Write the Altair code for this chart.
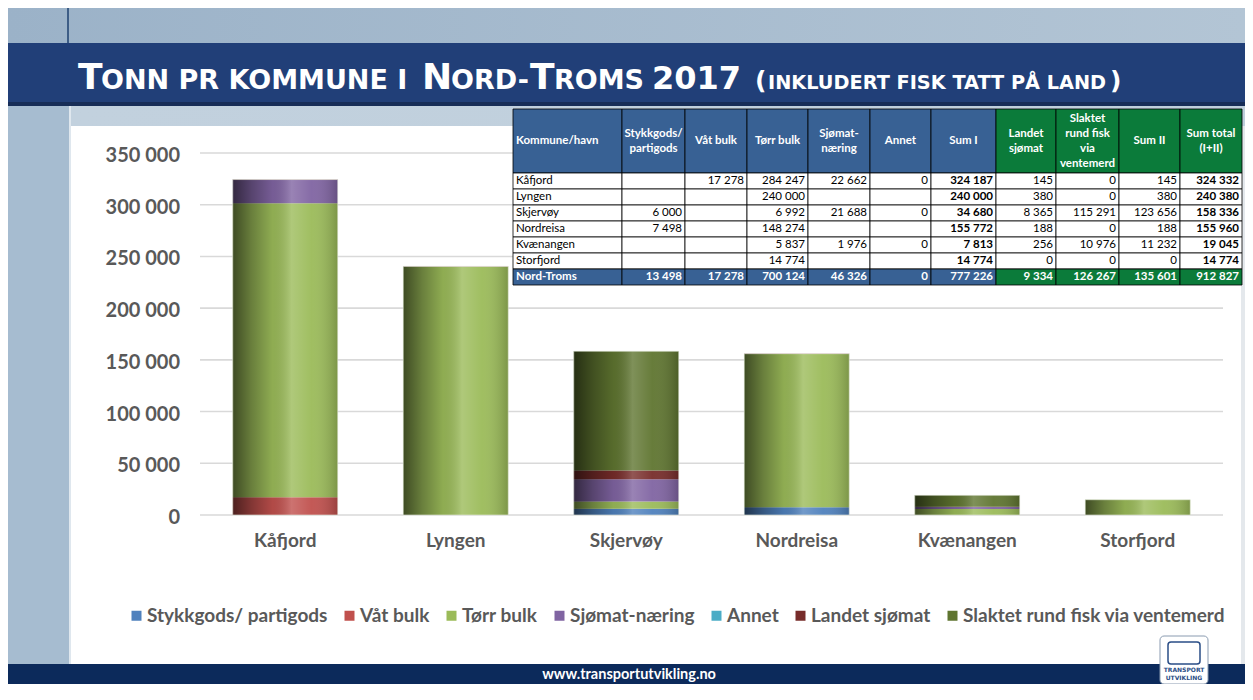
import altair as alt
import pandas as pd

# ---------------- data ----------------
KOMMUNER = ["Kåfjord", "Lyngen", "Skjervøy", "Nordreisa", "Kvænangen", "Storfjord"]
SERIES = ["Stykkgods/ partigods", "Våt bulk", "Tørr bulk", "Sjømat-næring",
          "Annet", "Landet sjømat", "Slaktet rund fisk via ventemerd"]
STYKKGODS = [None, None, 6000, 7498, None, None]
VAT_BULK = [17278, None, None, None, None, None]
TORR_BULK = [284247, 240000, 6992, 148274, 5837, 14774]
SJOMAT = [22662, None, 21688, None, 1976, None]
ANNET = [0, None, 0, None, 0, None]
LANDET = [145, 380, 8365, 188, 256, 0]
SLAKTET = [0, 0, 115291, 0, 10976, 0]
Y_TICKS = [0, 50000, 100000, 150000, 200000, 250000, 300000, 350000]
TABLE_HEADERS = ["Kommune/havn", "Stykkgods/\npartigods", "Våt bulk", "Tørr bulk",
                 "Sjømat-\nnæring", "Annet", "Sum I", "Landet\nsjømat",
                 "Slaktet\nrund fisk\nvia\nventemerd", "Sum II", "Sum total\n(I+II)"]
TOTAL_LABEL = "Nord-Troms"

COLORS = ["#4F81BD", "#C0504D", "#9BBB59", "#8064A2", "#4BACC6", "#772C2A", "#5F7530"]
SERIES_VALUES = [STYKKGODS, VAT_BULK, TORR_BULK, SJOMAT, ANNET, LANDET, SLAKTET]


def fmt(v):
    return "" if v is None else f"{v:,}".replace(",", " ")


rows = []
for si, (name, vals) in enumerate(zip(SERIES, SERIES_VALUES)):
    for k, v in zip(KOMMUNER, vals):
        if v:
            rows.append({"kommune": k, "serie": name, "idx": si, "value": v})
df = pd.DataFrame(rows)
ticks_df = pd.DataFrame({"t": Y_TICKS, "label": [fmt(t) for t in Y_TICKS]})
kom_df = pd.DataFrame({"kommune": KOMMUNER})

# ---------------- layout (reference pixel coords) ----------------
OX, OY = 200, 153          # plot origin in page coords
PW, PH = 1023, 362
ONE = pd.DataFrame({"o": [0]})


def rect(x1, y1, x2, y2, fill, **kw):
    return alt.Chart(ONE).mark_rect(fill=fill, **kw).encode(
        x=alt.value(x1 - OX), x2=alt.value(x2 - OX),
        y=alt.value(y1 - OY), y2=alt.value(y2 - OY))


def txt(x, y, s, size, color="white", weight="bold", font="DejaVu Sans",
        align="left", baseline="alphabetic"):
    return alt.Chart(ONE).mark_text(
        text=s, font=font, fontSize=size, fontWeight=weight, color=color,
        align=align, baseline=baseline).encode(
        x=alt.value(x - OX), y=alt.value(y - OY))


def hgrad(c1, c2):
    return alt.Gradient(gradient="linear", x1=0, x2=1, y1=0, y2=0,
                        stops=[alt.GradientStop(color=c1, offset=0),
                               alt.GradientStop(color=c2, offset=1)])


deco = [
    rect(8, 8, 1245, 43, hgrad("#9bb2c8", "#b3c5d5")),
    rect(8, 105, 70, 684, "#a6bcd0"),
    rect(69, 106, 71, 664, "#dfe7ee"),
    rect(71, 106, 1245, 126, hgrad("#c2d1de", "#bfcfdc")),
    rect(1241, 126, 1245, 664, "#e4e8ec"),
    rect(67, 8, 69, 43, "#3d5d86"),
    rect(8, 43, 1245, 105, "#213f78"),
    rect(8, 102, 1245, 106, "#172d57"),
    rect(8, 664, 1245, 684, "#0c2a5b"),
    txt(629, 679, "www.transportutvikling.no", 14.5, font="Lato", align="center"),
    rect(1160, 636, 1208, 684, "#ffffff", cornerRadius=4, stroke="#8a9bb0", strokeWidth=1),
    rect(1168, 642, 1200, 664, "#ffffff", stroke="#2a4d86", strokeWidth=1.5, cornerRadius=3),
    txt(1184, 672, "TRANSPORT", 6, color="#2a4d86", align="center"),
    txt(1184, 680, "UTVIKLING", 6, color="#2a4d86", align="center"),
]

# title pieces (small caps emulation)
title = [
    txt(78, 89, "T", 36),
    txt(101, 89, "ONN PR KOMMUNE I", 27),
    txt(422, 89, "N", 36),
    txt(451, 89, "ORD-", 27),
    txt(530, 89, "T", 36),
    txt(554, 89, "ROMS", 27),
    txt(652, 89, "2017", 32),
    txt(755, 89, "(", 25),
    txt(768, 89, "INKLUDERT FISK TATT PÅ LAND", 19.3),
    txt(1110, 89, ")", 25),
]

# ---------------- bars and axes ----------------
xscale = alt.Scale(paddingInner=0.384, paddingOuter=0.192)
yscale = alt.Scale(domain=[0, 350000], nice=False)

grid = alt.Chart(ticks_df).mark_rule(color="#d9d9d9", strokeWidth=1.6).encode(
    x=alt.value(0), x2=alt.value(PW),
    y=alt.Y("t:Q", scale=yscale, axis=None))

ylabels = alt.Chart(ticks_df).mark_text(
    align="right", baseline="middle", dy=3, font="Lato", fontWeight="bold",
    fontSize=20, color="#595959").encode(
    x=alt.value(-20), y=alt.Y("t:Q", scale=yscale, axis=None), text="label:N")

xlabels = alt.Chart(kom_df).mark_text(
    align="center", baseline="middle", font="Lato", fontWeight="bold",
    fontSize=19, color="#595959").encode(
    x=alt.X("kommune:N", sort=KOMMUNER, scale=xscale, axis=None),
    y=alt.value(541 - OY), text="kommune:N")

bars = alt.Chart(df).mark_bar().encode(
    x=alt.X("kommune:N", sort=KOMMUNER, scale=xscale, axis=None),
    y=alt.Y("value:Q", stack="zero", scale=yscale, axis=None),
    color=alt.Color("serie:N", sort=SERIES,
                    scale=alt.Scale(domain=SERIES, range=COLORS),
                    legend=alt.Legend(title=None, orient="none", legendX=-73, legendY=453,
                                      direction="horizontal", columns=7,
                                      symbolType="square", symbolSize=100,
                                      symbolStrokeWidth=0, labelFont="Lato",
                                      labelFontWeight="bold", labelFontSize=19,
                                      labelColor="#595959", labelOffset=1,
                                      columnPadding=12, padding=0, labelLimit=400)),
    order=alt.Order("idx:Q", sort="ascending"),
)

shade = alt.Gradient(
    gradient="linear", x1=0, x2=1, y1=0, y2=0,
    stops=[alt.GradientStop(color="rgba(0,0,0,0.6)", offset=0),
           alt.GradientStop(color="rgba(0,0,0,0.32)", offset=0.18),
           alt.GradientStop(color="rgba(0,0,0,0.08)", offset=0.38),
           alt.GradientStop(color="rgba(255,255,255,0.2)", offset=0.56),
           alt.GradientStop(color="rgba(255,255,255,0.05)", offset=0.75),
           alt.GradientStop(color="rgba(0,0,0,0.2)", offset=1)])

overlay = alt.Chart(df).transform_aggregate(
    total="sum(value)", groupby=["kommune"]
).mark_bar(color=shade, stroke="#e8ece0", strokeWidth=0.6).encode(
    x=alt.X("kommune:N", sort=KOMMUNER, scale=xscale, axis=None),
    y=alt.Y("total:Q", scale=yscale, axis=None),
)

# ---------------- table ----------------
COL_EDGES = [513, 622, 685, 747, 808, 870, 931, 996, 1056, 1119, 1180, 1242]
HEAD_TOP, HEAD_BOT, ROW_H, LINE_H = 109, 173, 16, 15
BLUE, GREEN = "#386194", "#0b7b3a"


def s(vals):
    return sum(v for v in vals if v is not None)


body = []
for i, k in enumerate(KOMMUNER):
    comps = [STYKKGODS[i], VAT_BULK[i], TORR_BULK[i], SJOMAT[i], ANNET[i]]
    sum1 = s(comps)
    sum2 = LANDET[i] + SLAKTET[i]
    body.append([k] + comps + [sum1, LANDET[i], SLAKTET[i], sum2, sum1 + sum2])
totals = [TOTAL_LABEL] + [s([r[c] for r in body]) for c in range(1, 11)]

rect_rows, head_txt, head_left, name_txt, num_txt, bold_txt, tot_name, tot_num = ([] for _ in range(8))
for c in range(11):
    x1, x2 = COL_EDGES[c] - OX, COL_EDGES[c + 1] - OX
    hfill = BLUE if c < 7 else GREEN
    rect_rows.append({"x1": x1, "x2": x2, "y1": HEAD_TOP - OY, "y2": HEAD_BOT - OY, "fill": hfill})
    nlines = TABLE_HEADERS[c].count("\n") + 1
    hy = (HEAD_TOP + HEAD_BOT) / 2 - OY - (nlines - 1) * LINE_H / 2
    if c == 0:
        head_left.append({"tx": x1 + 3, "ty": hy, "text": TABLE_HEADERS[c]})
    else:
        head_txt.append({"tx": (x1 + x2) / 2, "ty": hy, "text": TABLE_HEADERS[c]})
    for r, row in enumerate(body + [totals]):
        y1 = HEAD_BOT + r * ROW_H - OY
        y2 = y1 + ROW_H
        is_tot = r == len(body)
        rect_rows.append({"x1": x1, "x2": x2, "y1": y1, "y2": y2,
                          "fill": (hfill if is_tot else "#ffffff")})
        cy = (y1 + y2) / 2
        if c == 0:
            rec = {"tx": x1 + 3, "ty": cy, "text": row[0]}
            (tot_name if is_tot else name_txt).append(rec)
        else:
            rec = {"tx": x2 - 3, "ty": cy, "text": fmt(row[c])}
            if is_tot:
                tot_num.append(rec)
            elif c in (6, 10):
                bold_txt.append(rec)
            else:
                num_txt.append(rec)

table_rect = alt.Chart(pd.DataFrame(rect_rows)).mark_rect(
    stroke="#000000", strokeWidth=0.8).encode(
    x=alt.X("x1:Q", scale=None, axis=None), x2="x2:Q",
    y=alt.Y("y1:Q", scale=None, axis=None), y2="y2:Q",
    fill=alt.Fill("fill:N", scale=None, legend=None))


def tlayer(recs, align, color, weight, size=11.5):
    return alt.Chart(pd.DataFrame(recs)).mark_text(
        align=align, baseline="middle", font="Lato", fontSize=size,
        fontWeight=weight, color=color, lineBreak="\n", lineHeight=LINE_H).encode(
        x=alt.X("tx:Q", scale=None, axis=None),
        y=alt.Y("ty:Q", scale=None, axis=None),
        text="text:N")


table = [
    table_rect,
    tlayer(head_txt, "center", "#ffffff", "bold"),
    tlayer(head_left, "left", "#ffffff", "bold"),
    tlayer(name_txt, "left", "#000000", "normal"),
    tlayer(num_txt, "right", "#000000", "normal"),
    tlayer(bold_txt, "right", "#000000", "bold"),
    tlayer(tot_name, "left", "#ffffff", "bold"),
    tlayer(tot_num, "right", "#ffffff", "bold"),
]

chart = alt.layer(*deco, *title, grid, ylabels, xlabels, bars, overlay, *table).properties(
    width=PW, height=PH,
    background="#ffffff",
    autosize=alt.AutoSizeParams(type="none"),
    padding={"left": OX - 8, "top": OY - 8, "right": 1237 - (OX - 8) - PW,
             "bottom": 676 - (OY - 8) - PH},
).configure_view(stroke=None)

chart.save("out.html", embed_options={"renderer": "svg", "actions": False})
